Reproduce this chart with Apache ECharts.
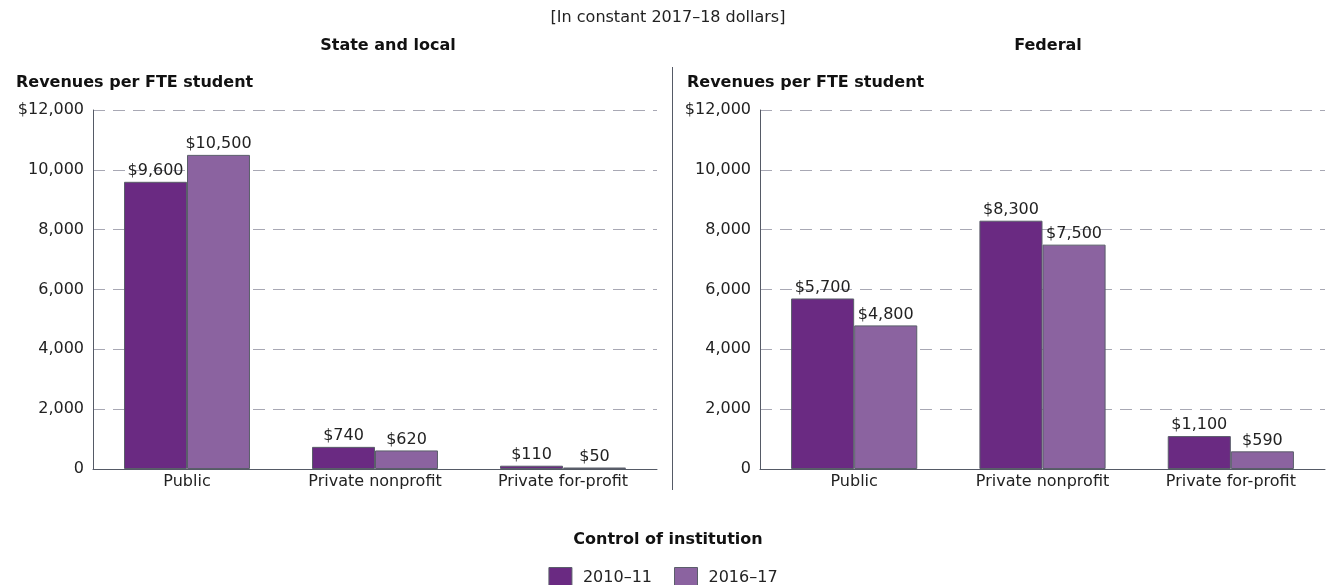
<!DOCTYPE html>
<html><head><meta charset="utf-8">
<script src="https://cdn.jsdelivr.net/npm/echarts@6/dist/echarts.min.js"></script>
<style>html,body{margin:0;padding:0;background:#fff}#c{width:1326px;height:585px}</style>
</head><body><div id="c"></div>
<script>
const categories = ['Public', 'Private nonprofit', 'Private for-profit'];
const seriesNames = ['2010\u201311', '2016\u201317'];
const stateLocal2010 = [9600, 740, 110];
const stateLocal2016 = [10500, 620, 50];
const federal2010 = [5700, 8300, 1100];
const federal2016 = [4800, 7500, 590];
const yTicks = [0, 2000, 4000, 6000, 8000, 10000, 12000];

const FONT = 'DejaVu Sans';
const dark = '#6A2A82', light = '#8B63A0', border = '#5a5e6a';
const fmt = v => v.toLocaleString('en-US');
const chart = echarts.init(document.getElementById('c'));

function xAx(i){return {type:'category',gridIndex:i,data:categories,
  axisLine:{lineStyle:{color:'#555a66',width:1}},axisTick:{show:false},
  axisLabel:{color:'#222',fontFamily:FONT,fontSize:16,margin:5}};}
function yAx(i){return {type:'value',gridIndex:i,min:yTicks[0],max:yTicks[yTicks.length-1],interval:2000,
  axisLine:{show:true,lineStyle:{color:'#555a66',width:1}},axisTick:{show:false},
  splitLine:{lineStyle:{color:'#a8a8b4',type:[12,8],width:1}},
  axisLabel:{color:'#222',fontFamily:FONT,fontSize:16,margin:9,
    formatter:v=> v===yTicks[yTicks.length-1] ? '$'+fmt(v) : fmt(v)}};}
function ser(name,data,i,color){return {name:name,type:'bar',xAxisIndex:i,yAxisIndex:i,data:data,
  barGap:0,barCategoryGap:'33%',
  itemStyle:{color:color,borderColor:border,borderWidth:1},
  label:{show:true,position:'top',color:'#222',fontFamily:FONT,fontSize:16,distance:3,
    formatter:p=>'$'+fmt(p.value)}};}

chart.setOption({
  animation:false,
  textStyle:{fontFamily:FONT},
  grid:[{left:93,right:669,top:110,bottom:116},{left:760,right:1,top:110,bottom:116}],
  xAxis:[xAx(0),xAx(1)],
  yAxis:[yAx(0),yAx(1)],
  title:[
    {text:'[In constant 2017\u201318 dollars]',left:663,top:5,textAlign:'center',textStyle:{fontFamily:FONT,fontSize:16,fontWeight:'normal',color:'#222'}},
    {text:'State and local',left:383,top:33,textAlign:'center',textStyle:{fontFamily:FONT,fontSize:16,fontWeight:'bold',color:'#111'}},
    {text:'Federal',left:1043,top:33,textAlign:'center',textStyle:{fontFamily:FONT,fontSize:16,fontWeight:'bold',color:'#111'}},
    {text:'Revenues per FTE student',left:11,top:70,textStyle:{fontFamily:FONT,fontSize:16,fontWeight:'bold',color:'#111'}},
    {text:'Revenues per FTE student',left:682,top:70,textStyle:{fontFamily:FONT,fontSize:16,fontWeight:'bold',color:'#111'}},
    {text:'Control of institution',left:663,top:527,textAlign:'center',textStyle:{fontFamily:FONT,fontSize:16,fontWeight:'bold',color:'#111'}}
  ],
  legend:{data:seriesNames,left:'center',top:562,itemWidth:23,itemHeight:21,itemGap:22,icon:'rect',
    textStyle:{fontFamily:FONT,fontSize:16,color:'#222',padding:[0,0,0,6]},
    itemStyle:{borderColor:border,borderWidth:1}},
  graphic:[{type:'line',shape:{x1:672.5,y1:67,x2:672.5,y2:490},style:{stroke:'#555a66',lineWidth:1}}],
  series:[
    ser(seriesNames[0],stateLocal2010,0,dark),
    ser(seriesNames[1],stateLocal2016,0,light),
    ser(seriesNames[0],federal2010,1,dark),
    ser(seriesNames[1],federal2016,1,light)
  ]
});
</script></body></html>
